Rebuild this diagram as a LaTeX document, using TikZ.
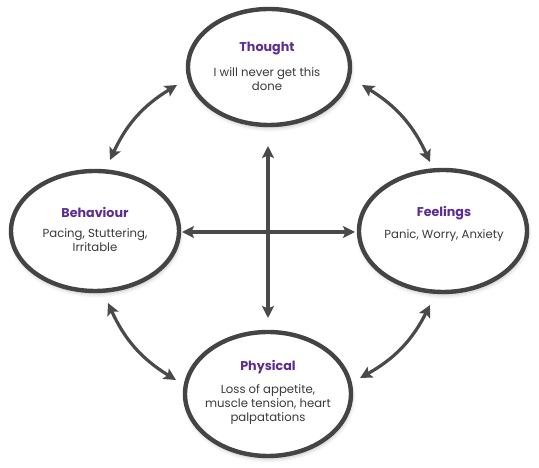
\documentclass[tikz,border=0pt]{standalone}
\usepackage{fontspec}
\setmainfont{Poppins}
\usetikzlibrary{shapes.geometric,arrows.meta,shadows.blur}
\definecolor{ringgray}{HTML}{444444}
\definecolor{arrowgray}{HTML}{4A4A4A}
\definecolor{titlepurple}{HTML}{5C2D91}
\definecolor{bodygray}{HTML}{3A3A3A}
\begin{document}
\begin{tikzpicture}[x=1pt,y=1pt,
  ring/.style={ellipse,draw=ringgray,line width=4.4pt,fill=white,inner sep=0pt,
    blur shadow={shadow xshift=1pt,shadow yshift=-3pt,shadow blur radius=4pt,shadow opacity=25}},
  ttl/.style={font=\fontsize{12.7}{14}\selectfont\bfseries,text=titlepurple,inner sep=0pt},
  body/.style={font=\fontsize{11.7}{14}\selectfont,text=bodygray,align=center,inner sep=0pt},
  link/.style={draw=arrowgray,line width=3.2pt,{Stealth[length=12pt,width=12pt,inset=2.5pt]}-{Stealth[length=12pt,width=12pt,inset=2.5pt]}}
]
\useasboundingbox (0,0) rectangle (539,468);
\node[ring,minimum width=162pt,minimum height=116pt] (thought) at (269,401) {};
\node[ring,minimum width=168pt,minimum height=120pt] (behaviour) at (95,237) {};
\node[ring,minimum width=168pt,minimum height=122pt] (feelings) at (443,237) {};
\node[ring,minimum width=166pt,minimum height=124pt] (physical) at (268,74) {};

\node[ttl] (tthought) at (267,419) {Thought};
\node[body] (bthought) at (267,389) {I will never get this\\done};
\node[ttl] (tbeh) at (95,256) {Behaviour};
\node[body] (bbeh) at (95,228) {Pacing, Stuttering,\\Irritable};
\node[ttl] (tfeel) at (444,255) {Feelings};
\node[body] (bfeel) at (444,232) {Panic, Worry, Anxiety};
\node[ttl] (tphys) at (268,101) {Physical};
\node[body] (bphys) at (268,63) {Loss of appetite,\\muscle tension, heart\\palpatations};

\coordinate (vtop) at (268,322);
\coordinate (vbot) at (268,150);
\coordinate (hl) at (182,236);
\coordinate (hr) at (355,236);
\coordinate (tl1) at (110,308);
\coordinate (tl2) at (177,383);
\coordinate (tr1) at (362,383);
\coordinate (tr2) at (430,306);
\coordinate (bl1) at (176,88);
\coordinate (bl2) at (108,165);
\coordinate (br1) at (430,163);
\coordinate (br2) at (360,90);

\draw[link] (vtop) -- (vbot);
\draw[link] (hl) -- (hr);
\draw[link] (tl1) to[bend left=17] (tl2);
\draw[link] (tr1) to[bend left=17] (tr2);
\draw[link] (bl1) to[bend left=17] (bl2);
\draw[link] (br1) to[bend left=17] (br2);
\end{tikzpicture}
\end{document}
